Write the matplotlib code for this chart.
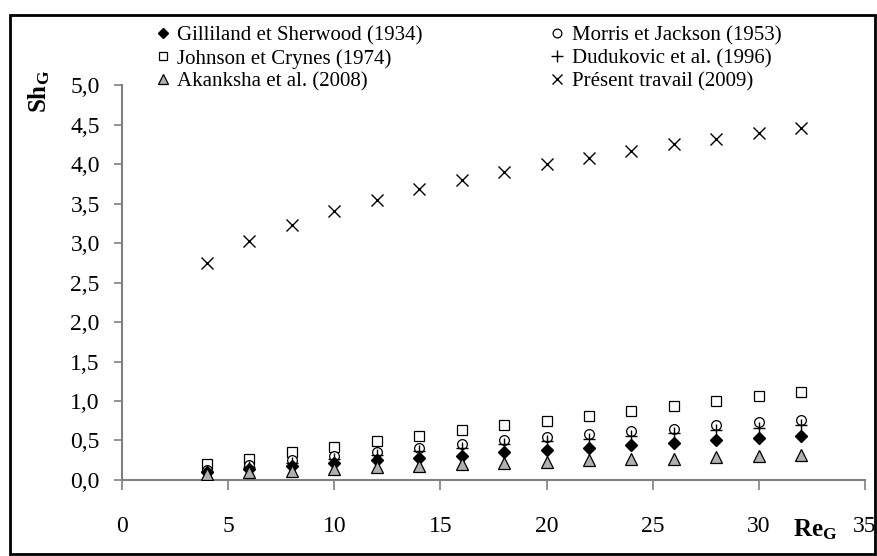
import matplotlib
matplotlib.use("Agg")
import matplotlib.pyplot as plt
from matplotlib.patches import Rectangle
from matplotlib.ticker import FuncFormatter

plt.rcParams['font.family'] = ['Liberation Serif', 'DejaVu Serif']
plt.rcParams['mathtext.fontset'] = 'custom'
plt.rcParams['mathtext.rm'] = 'Liberation Serif'
plt.rcParams['mathtext.bf'] = 'Liberation Serif:bold'

# Reynolds gaz
re_g = [4, 6, 8, 10, 12, 14, 16, 18, 20, 22, 24, 26, 28, 30, 32]

# Sherwood gaz selon chaque correlation
gilliland = [0.10, 0.14, 0.18, 0.21, 0.25, 0.28, 0.31, 0.35, 0.38, 0.41, 0.44, 0.47, 0.50, 0.53, 0.56]
morris = [0.13, 0.19, 0.25, 0.31, 0.36, 0.41, 0.46, 0.50, 0.54, 0.58, 0.62, 0.65, 0.69, 0.73, 0.76]
johnson = [0.20, 0.27, 0.35, 0.42, 0.49, 0.56, 0.63, 0.69, 0.75, 0.81, 0.87, 0.94, 1.00, 1.06, 1.12]
dudukovic = [0.12, 0.17, 0.22, 0.27, 0.32, 0.37, 0.41, 0.45, 0.49, 0.52, 0.56, 0.59, 0.63, 0.66, 0.69]
akanksha = [0.07, 0.10, 0.12, 0.14, 0.16, 0.18, 0.20, 0.22, 0.23, 0.25, 0.26, 0.27, 0.29, 0.30, 0.32]
present = [2.75, 3.02, 3.23, 3.40, 3.55, 3.68, 3.80, 3.90, 4.00, 4.08, 4.17, 4.25, 4.32, 4.39, 4.45]

fig = plt.figure(figsize=(8.77, 5.56), dpi=100)
ax = fig.add_axes([0.1391, 0.1367, 0.8472, 0.7104])

h_g, = ax.plot(re_g, gilliland, ls='none', marker='D', ms=6, mfc='black', mec='black',
               label='Gilliland et Sherwood (1934)', zorder=4)
h_j, = ax.plot(re_g, johnson, ls='none', marker='s', ms=7, mfc='white', mec='black', mew=0.9,
               label='Johnson et Crynes (1974)', zorder=3)
h_a, = ax.plot(re_g, akanksha, ls='none', marker='^', ms=8, mfc='#b0b0b0', mec='black', mew=0.9,
               label='Akanksha et al. (2008)', zorder=5)
h_m, = ax.plot(re_g, morris, ls='none', marker='o', ms=7, mfc='white', mec='black', mew=0.9,
               label='Morris et Jackson (1953)', zorder=3)
h_d, = ax.plot(re_g, dudukovic, ls='none', marker='+', ms=9, mec='black', mew=1.0,
               label='Dudukovic et al. (1996)', zorder=4)
h_p, = ax.plot(re_g, present, ls='none', marker='x', ms=8, mec='black', mew=1.0,
               label='Présent travail (2009)', zorder=3)

ax.set_xlim(0, 35)
ax.set_ylim(0, 5)
ax.set_xticks(range(0, 36, 5))
ax.set_yticks([i * 0.5 for i in range(11)])
ax.yaxis.set_major_formatter(FuncFormatter(lambda v, p: f"{v:.1f}".replace('.', ',')))

for s in ['top', 'right']:
    ax.spines[s].set_visible(False)
for s in ['left', 'bottom']:
    ax.spines[s].set_color('#808080')
    ax.spines[s].set_linewidth(1.5)

ax.tick_params(axis='both', direction='out', colors='#808080', labelcolor='black',
               labelsize=17, width=1.2)
ax.tick_params(axis='y', length=6, pad=10)
ax.tick_params(axis='x', length=7, pad=19)

fig.text(0.045, 0.835, r'$\mathbf{Sh_G}$', rotation=90, fontsize=18,
         ha='center', va='center')
fig.text(0.930, 0.047, r'$\mathbf{Re_G}$', fontsize=18, ha='center', va='center')

leg = ax.legend(handles=[h_g, h_j, h_a, h_m, h_d, h_p], ncol=2, frameon=False,
                fontsize=15, markerscale=0.9, handlelength=0.6, handletextpad=0.4,
                columnspacing=6.15, labelspacing=0.15, loc='upper left',
                bbox_to_anchor=(0.035, 1.17), borderaxespad=0)

# cadre exterieur
fig.patches.append(Rectangle((10 / 877, 2 / 556), 865 / 877, 539 / 556,
                             transform=fig.transFigure, fill=False,
                             edgecolor='black', linewidth=2))

fig.savefig('out.png', dpi=100)
